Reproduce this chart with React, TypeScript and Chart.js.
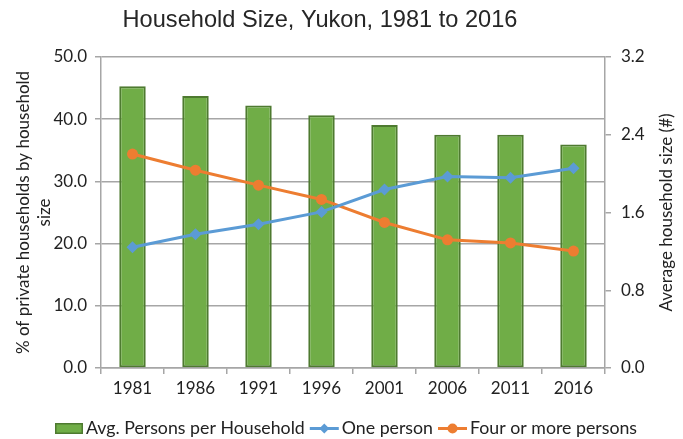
import React, { useEffect, useRef } from "react";
import { Chart, registerables } from "chart.js";

Chart.register(...registerables);

const years = ["1981", "1986", "1991", "1996", "2001", "2006", "2011", "2016"];
const avgPersons = [2.9, 2.8, 2.7, 2.6, 2.5, 2.4, 2.4, 2.3];
const onePerson = [19.4, 21.5, 23.1, 25.1, 28.7, 30.8, 30.6, 32.1];
const fourOrMore = [34.4, 31.8, 29.4, 27.1, 23.4, 20.6, 20.1, 18.8];

const titleText = "Household Size, Yukon, 1981 to 2016";
const leftTitle = ["% of private households by household", "size"];
const rightTitle = "Average household size (#)";
const legendLabels = ["Avg. Persons per Household", "One person", "Four or more persons"];

const FONT = "Lato";
const TEXT = "#222222";
const GRID = "#A6A6A6";
const GREEN = "#70AD47";
const GREEN_DARK = "#4E7A30";
const BLUE = "#5B9BD5";
const ORANGE = "#ED7D31";

const decorPlugin = {
  id: "decor",
  afterDraw(chart: any) {
    const ctx = chart.ctx as CanvasRenderingContext2D;
    const area = chart.chartArea;
    const midY = (area.top + area.bottom) / 2;
    ctx.save();
    // Title
    ctx.fillStyle = "#262626";
    ctx.font = `23.6px "Liberation Sans", Arial, sans-serif`;
    ctx.textAlign = "center";
    ctx.textBaseline = "alphabetic";
    ctx.fillText(titleText, 320, 27);

    // Left axis title
    ctx.font = `17px ${FONT}`;
    ctx.fillStyle = TEXT;
    ctx.textBaseline = "middle";
    const lx = [24, 45];
    leftTitle.forEach((t, i) => {
      ctx.save();
      ctx.translate(lx[i], midY);
      ctx.rotate(-Math.PI / 2);
      ctx.fillText(t, 0, 0);
      ctx.restore();
    });
    // Right axis title
    ctx.save();
    ctx.translate(667, midY);
    ctx.rotate(-Math.PI / 2);
    ctx.fillText(rightTitle, 0, 0);
    ctx.restore();

    // Legend
    ctx.font = `17px ${FONT}`;
    const fs = (17 * 219) / ctx.measureText(legendLabels[0]).width;
    ctx.font = `${fs}px ${FONT}`;
    ctx.textAlign = "left";
    const ly = 428.5;
    const boxW = 28;
    const lineW = 29;
    const gap = 3;
    const itemGap = 5;
    const widths = legendLabels.map((l) => ctx.measureText(l).width);
    let x = 55;
    // bar box
    ctx.fillStyle = GREEN;
    ctx.fillRect(x, ly - 5.5, boxW, 11);
    ctx.strokeStyle = GREEN_DARK;
    ctx.lineWidth = 1.5;
    ctx.strokeRect(x + 0.75, ly - 5.5 + 0.75, boxW - 1.5, 11 - 1.5);
    x += boxW + gap;
    ctx.fillStyle = TEXT;
    ctx.fillText(legendLabels[0], x, ly);
    x += widths[0] + itemGap;
    // one person
    ctx.strokeStyle = BLUE;
    ctx.lineWidth = 3;
    ctx.beginPath();
    ctx.moveTo(x, ly);
    ctx.lineTo(x + lineW, ly);
    ctx.stroke();
    ctx.fillStyle = BLUE;
    ctx.beginPath();
    const cx1 = x + lineW / 2;
    ctx.moveTo(cx1, ly - 5);
    ctx.lineTo(cx1 + 5, ly);
    ctx.lineTo(cx1, ly + 5);
    ctx.lineTo(cx1 - 5, ly);
    ctx.closePath();
    ctx.fill();
    x += lineW + gap;
    ctx.fillStyle = TEXT;
    ctx.fillText(legendLabels[1], x, ly);
    x += widths[1] + itemGap;
    // four or more
    ctx.strokeStyle = ORANGE;
    ctx.lineWidth = 3;
    ctx.beginPath();
    ctx.moveTo(x, ly);
    ctx.lineTo(x + lineW, ly);
    ctx.stroke();
    ctx.fillStyle = ORANGE;
    ctx.beginPath();
    ctx.arc(x + lineW / 2, ly, 5, 0, Math.PI * 2);
    ctx.fill();
    x += lineW + gap;
    ctx.fillStyle = TEXT;
    ctx.fillText(legendLabels[2], x, ly);
    ctx.restore();
  },
};

export default function App() {
  const ref = useRef<HTMLCanvasElement>(null);
  useEffect(() => {
    document.body.style.margin = "0";
    const canvas = ref.current!;
    const tickFont = { family: FONT, size: 17 };
    const chart = new Chart(canvas, {
      type: "bar",
      data: {
        labels: years,
        datasets: [
          {
            type: "line",
            label: legendLabels[1],
            data: onePerson,
            yAxisID: "y",
            borderColor: BLUE,
            backgroundColor: BLUE,
            borderWidth: 3,
            pointStyle: "rectRot",
            pointRadius: 6,
            pointBorderWidth: 0,
            pointBackgroundColor: BLUE,
            order: 0,
          } as any,
          {
            type: "line",
            label: legendLabels[2],
            data: fourOrMore,
            yAxisID: "y",
            borderColor: ORANGE,
            backgroundColor: ORANGE,
            borderWidth: 3,
            pointStyle: "circle",
            pointRadius: 5.5,
            pointBorderWidth: 0,
            pointBackgroundColor: ORANGE,
            order: 0,
          } as any,
          {
            type: "bar",
            label: legendLabels[0],
            data: avgPersons,
            yAxisID: "y1",
            backgroundColor: GREEN,
            borderColor: GREEN_DARK,
            borderWidth: 2,
            borderSkipped: false,
            barPercentage: 0.42,
            categoryPercentage: 1,
            order: 1,
          } as any,
        ],
      },
      options: {
        responsive: false,
        animation: false,
        layout: { padding: { left: 0, right: 0, top: 57, bottom: 31 } },
        plugins: {
          legend: { display: false },
          title: { display: false },
          tooltip: { enabled: false },
        },
        scales: {
          x: {
            type: "category",
            offset: true,
            grid: {
              drawOnChartArea: false,
              offset: true,
              tickLength: 6,
              color: GRID,
              lineWidth: 1.5,
            },
            border: { color: GRID, width: 1.5 },
            ticks: { font: tickFont, color: TEXT, padding: 4, maxRotation: 0 },
            afterFit: (s: any) => {
              s.height = 40;
            },
          },
          y: {
            position: "left",
            min: 0,
            max: 50,
            ticks: {
              stepSize: 10,
              font: tickFont,
              color: TEXT,
              padding: 8,
              callback: (v: any) => Number(v).toFixed(1),
            },
            grid: { color: GRID, lineWidth: 1.5, tickLength: 6 },
            border: { color: GRID, width: 1.5 },
            afterFit: (s: any) => {
              s.width = 101;
            },
          },
          y1: {
            position: "right",
            min: 0,
            max: 3.2,
            ticks: {
              stepSize: 0.8,
              font: tickFont,
              color: TEXT,
              padding: 10,
              callback: (v: any) => Number(v).toFixed(1),
            },
            grid: { drawOnChartArea: false, color: GRID, lineWidth: 1.5, tickLength: 6 },
            border: { color: GRID, width: 1.5 },
            afterFit: (s: any) => {
              s.width = 78;
            },
          },
        },
      },
      plugins: [decorPlugin],
    });
    return () => chart.destroy();
  }, []);
  return (
    <div style={{ width: 683, height: 439, position: "relative", background: "#fff" }}>
      <canvas ref={ref} width={683} height={439} style={{ display: "block" }} />
    </div>
  );
}
